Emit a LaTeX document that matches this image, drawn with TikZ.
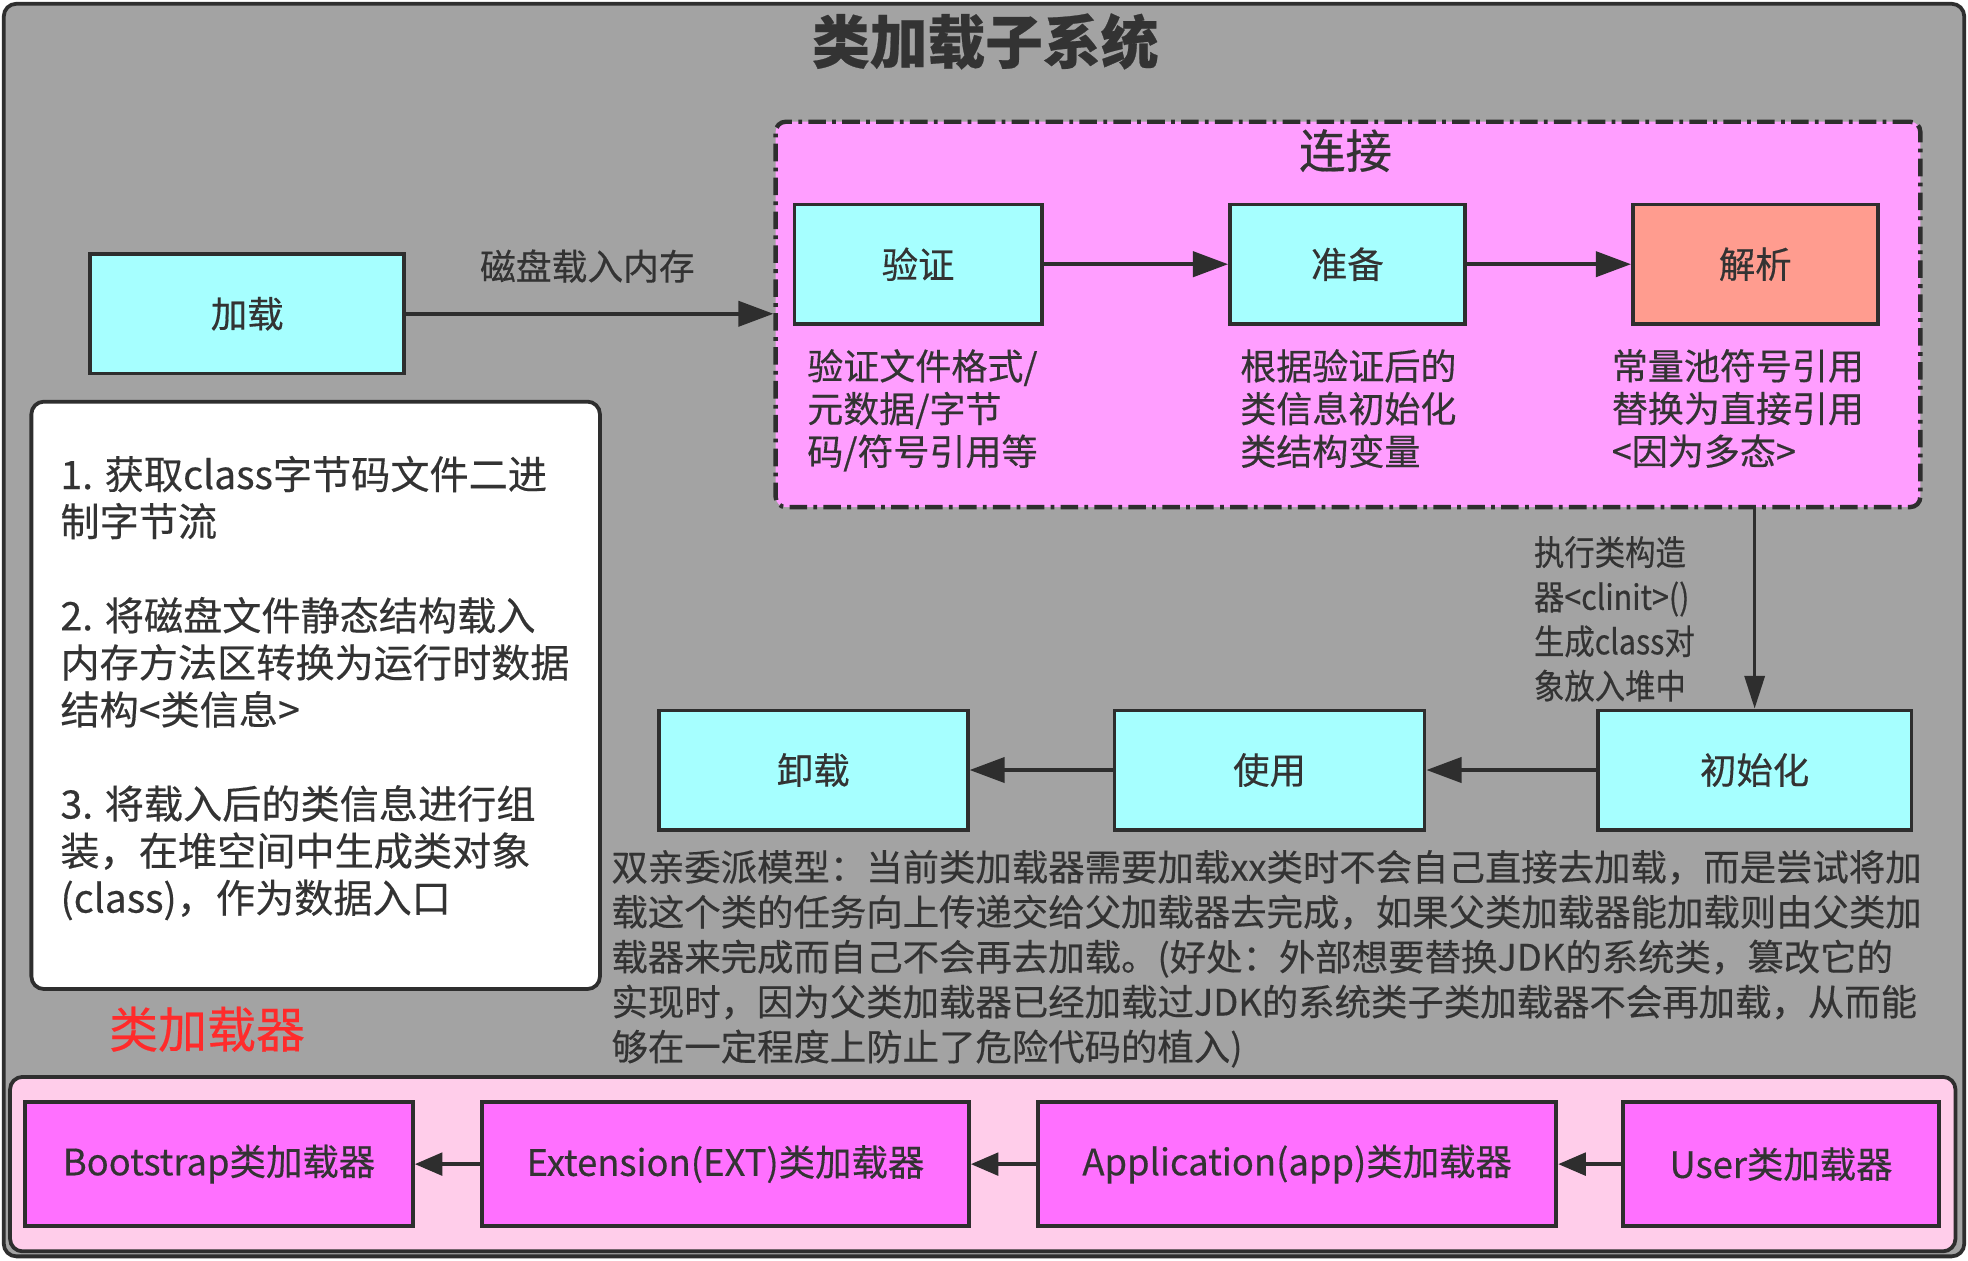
\documentclass[tikz,border=0pt]{standalone}
\usepackage{fontspec}
\setmainfont{Noto Sans CJK SC}[FakeBold=0.4]
\newfontfamily\narrowfont[FakeStretch=0.88,FakeBold=0.4]{Noto Sans CJK SC}
\usetikzlibrary{arrows.meta}
\definecolor{bggray}{HTML}{A3A3A3}
\definecolor{inkc}{HTML}{2E2E2E}
\definecolor{txtc}{HTML}{333333}
\definecolor{cyanbox}{HTML}{A6FFFF}
\definecolor{pinkzone}{HTML}{FF9EFF}
\definecolor{salmon}{HTML}{FF9C8F}
\definecolor{lightpink}{HTML}{FFCDEA}
\definecolor{magbox}{HTML}{FF70FF}
\definecolor{redtxt}{HTML}{FF2B2B}
\tikzset{
  stagebox/.style={draw=inkc, line width=3pt, fill=cyanbox, text=txtc,
    minimum height=95pt, inner sep=0pt, font=\fontsize{29}{34}\selectfont},
  loaderbox/.style={draw=inkc, line width=3pt, fill=magbox, text=txtc,
    minimum height=99pt, inner sep=0pt, font=\fontsize{29}{32}\selectfont},
  flow/.style={draw=inkc, line width=3pt, -{Triangle[length=28pt,width=20pt]}},
  flowsmall/.style={draw=inkc, line width=3pt, -{Triangle[length=22pt,width=18pt]}},
  note/.style={text=txtc, align=left, inner sep=0pt, anchor=north west,
    font=\fontsize{28.7}{34}\selectfont},
}
\begin{document}
\begin{tikzpicture}[x=1pt,y=-1pt]
\useasboundingbox (0,0) rectangle (1568,1004);
% outer frame
\draw[fill=bggray, draw=inkc, line width=3pt, rounded corners=10pt] (3,3) rectangle (1565,1001);
\node[text=txtc, font=\fontsize{46}{50}\selectfont\bfseries] (title) at (785,33) {类加载子系统};
% linking zone
\node[draw=inkc, fill=pinkzone, line width=3.5pt, rounded corners=8pt,
  dash pattern=on 14pt off 5pt on 3pt off 5pt,
  minimum width=912pt, minimum height=307pt, inner sep=0pt] (zone) at (1074,250.5) {};
\node[text=txtc, font=\fontsize{37}{40}\selectfont] (zonetitle) at (1072,120) {连接};
% stage boxes
\node[stagebox, minimum width=250pt] (load) at (197,250) {加载};
\node[stagebox, minimum width=197pt] (verify) at (731.5,210.5) {验证};
\node[stagebox, minimum width=187pt] (prepare) at (1073.5,210.5) {准备};
\node[stagebox, minimum width=195pt, fill=salmon] (resolve) at (1398.5,210.5) {解析};
\node[stagebox, minimum width=246pt] (unload) at (648,613.5) {卸载};
\node[stagebox, minimum width=247pt] (use) at (1011.5,613.5) {使用};
\node[stagebox, minimum width=250pt] (init) at (1398,613.5) {初始化};
% arrows
\draw[flow] (load.east) -- (load.east -| zone.west);
\node[text=txtc, font=\fontsize{28.5}{32}\selectfont] (loadlabel) at (468,212) {磁盘载入内存};
\draw[flow] (verify) -- (prepare);
\draw[flow] (prepare) -- (resolve);
\draw[draw=inkc, line width=2.5pt, -{Triangle[length=26pt,width=16pt]}] (init.north |- zone.south) -- (init.north);
\draw[flow] (init) -- (use);
\draw[flow] (use) -- (unload);
% notes under stages
\node[note] (vnote) at (643,278) {验证文件格式/\\元数据/字节\\码/符号引用等};
\node[note] (pnote) at (988,278) {根据验证后的\\类信息初始化\\类结构变量};
\node[note] (rnote) at (1284,278) {常量池符号引用\\替换为直接引用\\<因为多态>};
\node[note, font=\fontsize{27.5}{35.5}\selectfont\narrowfont] (initnote) at (1222,427) {执行类构造\\器<clinit>()\\生成class对\\象放入堆中};
% white steps box
\node[draw=inkc, fill=white, line width=3pt, rounded corners=10pt,
  minimum width=453pt, minimum height=468pt, inner sep=0pt] (steps) at (251.5,554) {};
\node[note, font=\fontsize{31.2}{37.5}\selectfont] (stepstext) at (48,363) {1. 获取class字节码文件二进\\制字节流\\[37.5pt]2. 将磁盘文件静态结构载入\\内存方法区转换为运行时数据\\结构<类信息>\\[37.5pt]3. 将载入后的类信息进行组\\装，在堆空间中生成类对象\\(class)，作为数据入口};
% delegation paragraph
\node[note, font=\fontsize{29}{35.8}\selectfont] (para) at (487,677) {双亲委派模型：当前类加载器需要加载xx类时不会自己直接去加载，而是尝试将加\\载这个类的任务向上传递交给父加载器去完成，如果父类加载器能加载则由父类加\\载器来完成而自己不会再去加载。(好处：外部想要替换JDK的系统类，篡改它的\\实现时，因为父类加载器已经加载过JDK的系统类子类加载器不会再加载，从而能\\够在一定程度上防止了危险代码的植入)};
\node[text=redtxt, font=\fontsize{39}{42}\selectfont] (loaderstitle) at (165,820) {类加载器};
% loaders
\node[draw=inkc, fill=lightpink, line width=3pt, rounded corners=10pt,
  minimum width=1550pt, minimum height=139pt, inner sep=0pt] (loaders) at (783,927.5) {};
\node[loaderbox, minimum width=309pt] (boot) at (174.5,927.5) {Bootstrap类加载器};
\node[loaderbox, minimum width=388pt] (ext) at (578,927.5) {Extension(EXT)类加载器};
\node[loaderbox, minimum width=413pt] (app) at (1033.5,927.5) {Application(app)类加载器};
\node[loaderbox, minimum width=252pt] (user) at (1419,927.5) {User类加载器};
\draw[flowsmall] (user) -- (app);
\draw[flowsmall] (app) -- (ext);
\draw[flowsmall] (ext) -- (boot);
\end{tikzpicture}
\end{document}
